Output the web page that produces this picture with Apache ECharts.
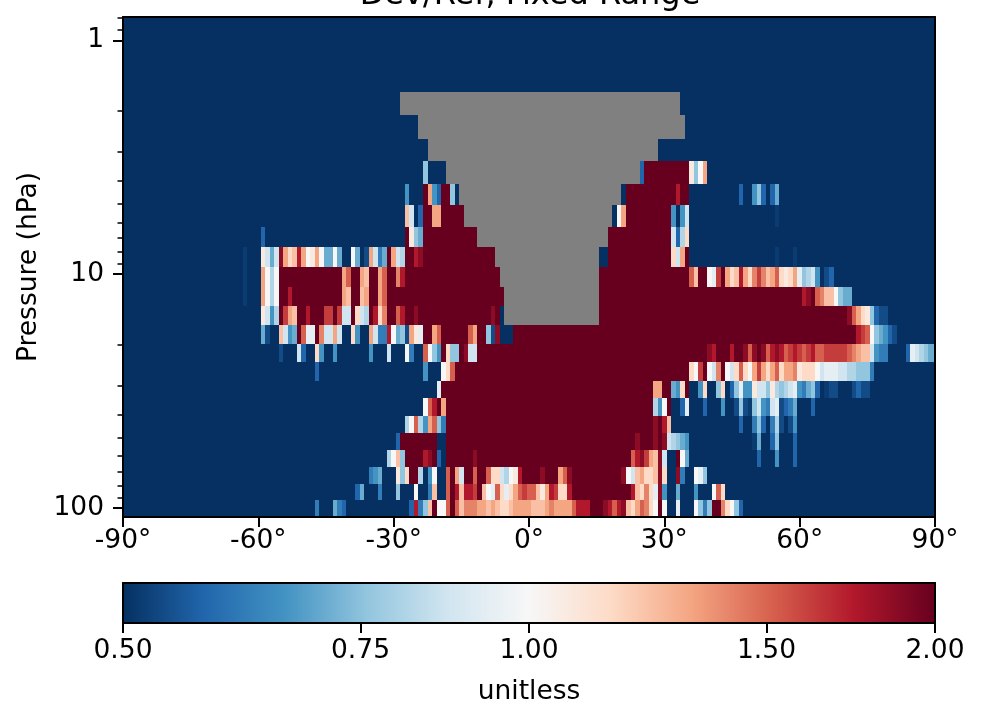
<!DOCTYPE html>
<html>
<head>
<meta charset="utf-8">
<style>html,body{margin:0;padding:0;background:#fff}#c{width:981px;height:703px}</style>
<script src="https://cdn.jsdelivr.net/npm/echarts@6/dist/echarts.min.js"></script>
</head>
<body>
<div id="c"></div>
<script>
// Pressure edges of the rows, top to bottom (hPa)
const pressureEdges = [0.795,1.664,2.086,2.644,3.282,4.117,5.062,6.287,7.655,9.32,11.35,13.68,16.50,19.90,23.75,28.64,33.85,40.42,47.79,56.49,66.79,78.97,92.45,109.3];
// Latitude of the first and last column (one column per degree)
const firstLat = -90, lastLat = 90;
// Ratio read for each colour code in the rows below
const codeValues = {'0':0.5,z:0.515,a:0.536,'1':0.574,b:0.616,'2':0.66,c:0.707,'3':0.758,d:0.812,'4':0.871,e:0.933,'5':1.0,f:1.072,'6':1.149,g:1.231,'7':1.32,h:1.414,'8':1.516,i:1.625,'9':1.741,j:1.866,X:2.0};
// Rows: [lat, codes] = consecutive cells from lat; [lat0, lat1, code] = a run; G = no data
const row01 = [];
const row02 = [[-28,33,'G']];
const row03 = [[-24,34,'G']];
const row04 = [[-22,28,'G']];
const row05 = [[-23,'3'],[-18,24,'G'],[25,'1'],[26,35,'X'],[36,'f357']];
const row06 = [[-27,'2'],[-23,'X721XX30'],[-15,20,'G'],[21,'0'],[22,32,'X'],[33,'9'],[34,35,'X'],[47,'1'],[50,'231'],[54,'1c']];
const row07 = [[-27,'g401'],[-23,-22,'X'],[-21,'77'],[-19,-15,'X'],[-14,18,'G'],[19,'057'],[22,31,'X'],[32,'2024'],[55,'z']];
const row08 = [[-59,'1'],[-27,'Xf3c'],[-23,-12,'X'],[-11,17,'G'],[18,31,'X'],[32,'41d6']];
const row09 = [[-63,'z'],[-59,'f4c4j76g975f75cc5c005c0a74bcX74dXX9j'],[-23,-8,'X'],[-7,15,'G'],[16,'00'],[18,31,'X'],[32,'647X'],[55,'z'],[59,'z']];
const row10 = [[-63,'z'],[-59,'75d5'],[-55,-42,'X'],[-41,'78XX7gXX78XXh9'],[-27,-7,'X'],[-6,15,'G'],[16,35,'X'],[36,'8gXX5eiX76g976hihg786f67e3d420a1']];
const row11 = [[-63,'z'],[-59,'75d5'],[-55,-54,'X'],[-53,'9'],[-52,-42,'X'],[-41,'7g'],[-39,-38,'X'],[-37,'g7'],[-35,-34,'X'],[-33,'78'],[-31,-6,'X'],[-5,15,'G'],[16,60,'X'],[61,'9jX8hgg53cc']];
const row12 = [[-59,'f42dXi7gXX9XXXiiXi44X64dX96hXX89'],[-27,-9,'X'],[-25,'j'],[-8,'jX0'],[-5,15,'G'],[16,70,'X'],[71,'j876f31aa']];
const row13 = [[-59,'ca00g42cX8eeXh447400620074bb95c3a7feXX78'],[-19,-14,'X'],[-13,'87XX3aj000'],[-3,72,'X'],[73,'9i853c21a']];
const row14 = [[-55,'a'],[-51,'41'],[-47,'62'],[-43,'2'],[-35,'2'],[-31,'4'],[-27,'5b'],[-23,'8532X633Xj44'],[-11,39,'X'],[40,'j9XXX9XXj8jXj89j98i9i8i988iiiii8h7gg42bb'],[84,'1e4d3cc']];
const row15 = [[-47,'1'],[-23,'2'],[-19,'568'],[-16,35,'X'],[36,'65iX54hX5468657i7678677hf66654eee44dd333b']];
const row16 = [[-20,'e'],[-19,27,'X'],[28,'77'],[30,31,'X'],[32,'c26X00260036013e22f443fd3d4e2bc310zaa000a1aa']];
const row17 = [[-23,'589X7'],[-18,27,'X'],[28,'d25X'],[34,'1e'],[39,'1'],[43,'2'],[46,'a3az342b4ea1bc'],[63,'1']];
const row18 = [[-27,'d58d2783b'],[-18,27,'X'],[28,'jX9g'],[47,'1'],[50,'b31'],[54,'bda'],[58,'a2']];
const row19 = [[-29,'1'],[-28,-21,'X'],[-18,23,'X'],[24,'j'],[25,27,'X'],[28,'jXj4d3c2'],[50,'zc'],[54,'13'],[59,'1']];
const row20 = [[-31,'d5g3'],[-27,-24,'X'],[-23,'9jX10'],[-18,-13,'X'],[-12,'j'],[-11,22,'X'],[23,'89ji7gj4'],[33,'X5c'],[51,'1'],[55,'2'],[59,'1']];
const row21 = [[-35,'b2c'],[-29,'f36'],[-26,-25,'X'],[-24,'d'],[-22,'25'],[-18,'8X74XX8XX8664d5f9'],[-1,2,'X'],[3,'j'],[4,6,'X'],[7,'78j'],[10,20,'X'],[21,'j54g766gj6'],[33,'jb'],[37,'5e3']];
const row22 = [[-38,'1c'],[-33,'b'],[-29,'3'],[-25,'5'],[-22,'bg'],[-18,'8X9g99iXg5e86e678i88gf79i669'],[10,22,'X'],[23,'9g6h6ej2'],[33,'c'],[37,'2'],[41,'586']];
const row23 = [[-47,'b'],[-43,'cb1'],[-26,'19b3gX558X8ghhh77g7g66g7777ggg7h77778999'],[14,16,'X'],[17,'j989jg678h65X5'],[33,'e'],[37,'53b3'],[41,'XX'],[43,'h6531']];
const rowList = [row01,row02,row03,row04,row05,row06,row07,row08,row09,row10,row11,row12,row13,row14,row15,row16,row17,row18,row19,row20,row21,row22,row23];
// Axis ticks and labels
const latTicks = [-90,-60,-30,0,30,60,90];
const pressureMajor = [1,10,100];
const pressureMinor = [0.8,0.9,2,3,4,5,6,7,8,9,20,30,40,50,60,70,80,90];
const colorbarTicks = [0.5,0.75,1,1.5,2];
const colorbarRange = [[0.5,2]];
// RdBu_r stops
const rdbu = ['#053061','#2166ac','#4393c3','#92c5de','#d1e5f0','#f7f7f7','#fddbc7','#f4a582','#d6604d','#b2182b','#67001f'];

const cells = [], noData = [];
rowList.forEach((segs, r) => {
  const m = {};
  segs.forEach(s => {
    if (s.length === 3) { for (let k = s[0]; k <= s[1]; k++) m[k] = s[2]; }
    else { [...s[1]].forEach((c, i) => { m[s[0] + i] = c; }); }
  });
  for (let k = firstLat; k <= lastLat; k++) {
    const c = m[k] || '0';
    const p = [Math.max(k - .5, firstLat), Math.min(k + .5, lastLat), pressureEdges[r], pressureEdges[r + 1]];
    if (c === 'G') noData.push(p);
    else cells.push([...p, codeValues[c]]);
  }
});

function hex(h){return [1,3,5].map(i=>parseInt(h.substr(i,2),16));}
function colorOf(v){
  const t = Math.max(0, Math.min(1, Math.log(v / 0.5) / Math.log(4))) * 10;
  const i = Math.min(9, Math.floor(t)), f = t - i;
  const a = hex(rdbu[i]), b = hex(rdbu[i + 1]);
  return `rgb(${a.map((x, n) => Math.round(x + (b[n] - x) * f)).join(',')})`;
}
function cellRect(api){
  const a = api.coord([api.value(0), api.value(2)]);
  const b = api.coord([api.value(1), api.value(3)]);
  const x0 = Math.round(a[0]), x1 = Math.round(b[0]), y0 = Math.round(a[1]), y1 = Math.round(b[1]);
  return {x: x0, y: y0, width: x1 - x0, height: y1 - y0};
}
const fnt = 'DejaVu Sans', fs = 26.5;
const lab = {color:'#000', fontFamily:fnt, fontSize:fs};
const line = {show:true, onZero:false, lineStyle:{color:'#000', width:2}};
const chart = echarts.init(document.getElementById('c'), null, {renderer:'canvas'});
chart.setOption({
  animation:false,
  backgroundColor:'#fff',
  title:{text:'Dev/Ref, Fixed Range', left:525, top:-25, textAlign:'center',
    textStyle:{color:'#000', fontFamily:fnt, fontSize:32, fontWeight:'normal'}},
  grid:[
    {left:123, top:17, width:812, height:500, outerBoundsMode:'none'},
    {left:123, top:583, width:812, height:40, outerBoundsMode:'none'}
  ],
  xAxis:[
    {type:'value', gridIndex:0, min:-90, max:90, interval:30, z:5, position:'bottom',
     axisLine:line, axisTick:{show:true, length:10, lineStyle:{color:'#000', width:2}},
     splitLine:{show:false}, axisLabel:{...lab, margin:11, formatter:v=>v+'°', customValues:latTicks}},
    {type:'value', gridIndex:0, min:-90, max:90, z:5, position:'top',
     axisLine:line, axisTick:{show:false}, axisLabel:{show:false}, splitLine:{show:false}},
    {type:'log', gridIndex:1, min:0.5, max:2, z:5, position:'bottom',
     axisLine:line,
     axisTick:{show:true, length:10, customValues:colorbarTicks, lineStyle:{color:'#000', width:2}},
     splitLine:{show:false}, minorTick:{show:false},
     axisLabel:{...lab, margin:15, customValues:colorbarTicks, formatter:v=>Number(v).toFixed(2)},
     name:'unitless', nameLocation:'middle', nameGap:56, nameTextStyle:lab},
    {type:'log', gridIndex:1, min:0.5, max:2, z:5, position:'top',
     axisLine:line, axisTick:{show:false}, axisLabel:{show:false}, splitLine:{show:false}}
  ],
  yAxis:[
    {type:'log', gridIndex:0, min:0.795, max:109.3, inverse:true, z:5, position:'left',
     axisLine:line,
     axisTick:{show:true, length:10, customValues:pressureMajor, lineStyle:{color:'#000', width:2}},
     splitLine:{show:false}, minorTick:{show:false},
     axisLabel:{...lab, margin:19, customValues:pressureMajor, formatter:v=>String(Math.round(v))},
     name:'Pressure (hPa)', nameLocation:'middle', nameGap:78, nameTextStyle:lab},
    {type:'log', gridIndex:0, min:0.795, max:109.3, inverse:true, z:5, position:'left',
     axisLine:{show:false, onZero:false},
     axisTick:{show:true, length:5.5, customValues:pressureMinor, lineStyle:{color:'#000', width:1.5}},
     splitLine:{show:false}, axisLabel:{show:false}},
    {type:'value', gridIndex:0, min:0, max:1, z:5, position:'right',
     axisLine:line, axisTick:{show:false}, axisLabel:{show:false}, splitLine:{show:false}},
    {type:'value', gridIndex:1, min:0, max:1, z:5, position:'left',
     axisLine:line, axisTick:{show:false}, axisLabel:{show:false}, splitLine:{show:false}},
    {type:'value', gridIndex:1, min:0, max:1, z:5, position:'right',
     axisLine:line, axisTick:{show:false}, axisLabel:{show:false}, splitLine:{show:false}}
  ],
  series:[
    {type:'custom', name:'Dev/Ref', xAxisIndex:0, yAxisIndex:0, coordinateSystem:'cartesian2d', silent:true, clip:true, z:2,
     encode:{x:[0,1], y:[2,3]}, data:cells,
     renderItem:(p,api)=>({type:'rect', shape:cellRect(api), style:{fill:colorOf(api.value(4))}})},
    {type:'custom', name:'No data', xAxisIndex:0, yAxisIndex:0, coordinateSystem:'cartesian2d', silent:true, clip:true, z:3,
     encode:{x:[0,1], y:[2,3]}, data:noData,
     renderItem:(p,api)=>({type:'rect', shape:cellRect(api), style:{fill:'#808080'}})},
    {type:'custom', name:'Colour bar', xAxisIndex:2, yAxisIndex:3, coordinateSystem:'cartesian2d', silent:true, z:2,
     encode:{x:0}, data:colorbarRange,
     renderItem:(p,api)=>{
       const a = api.coord([api.value(0),0]), b = api.coord([api.value(1),1]);
       return {type:'rect', shape:{x:a[0], y:b[1], width:b[0]-a[0], height:a[1]-b[1]},
         style:{fill:new echarts.graphic.LinearGradient(0,0,1,0,rdbu.map((c,i)=>({offset:i/10,color:c})))}};
     }}
  ]
});
</script>
</body>
</html>
